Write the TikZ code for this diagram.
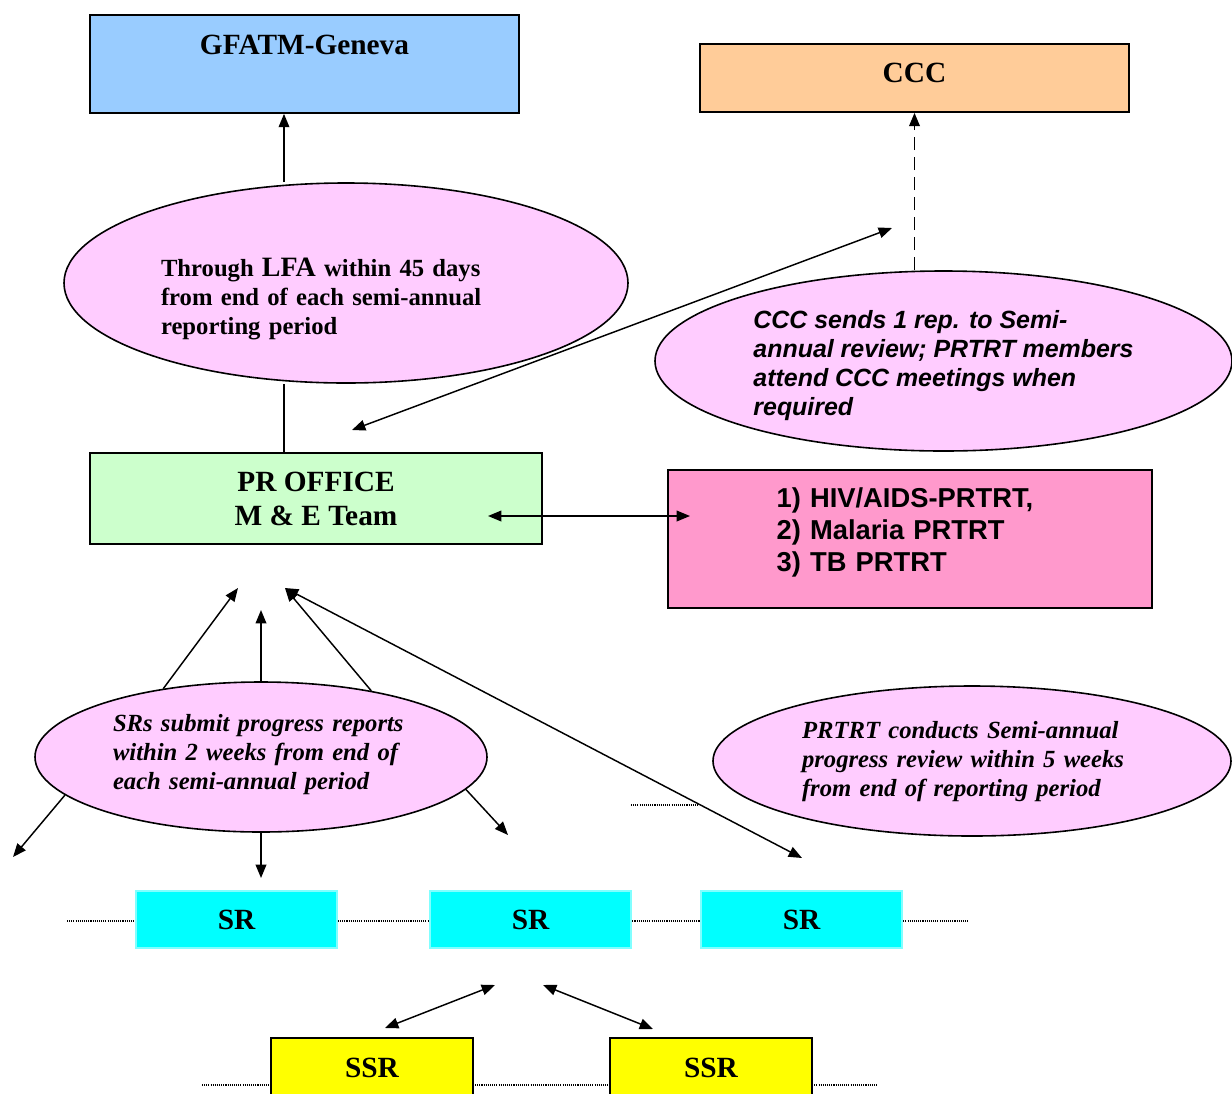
\documentclass[tikz,border=0pt]{standalone}
\usepackage{fontspec}
\setmainfont{Liberation Serif}
\newfontfamily\arialfont{Liberation Sans}
\usetikzlibrary{arrows.meta, positioning, shapes.geometric}

\definecolor{genevablue}{HTML}{99CCFF}
\definecolor{cccorange}{HTML}{FFCC99}
\definecolor{bubblepink}{HTML}{FFCCFF}
\definecolor{officegreen}{HTML}{CCFFCC}
\definecolor{prtrtpink}{HTML}{FF99CC}
\definecolor{srcyan}{HTML}{00FFFF}
\definecolor{ssryellow}{HTML}{FFFF00}

\begin{document}
\begin{tikzpicture}[
    x=0.75pt, y=-0.75pt,
    box/.style={rectangle, draw, line width=1.3pt, inner sep=0pt, align=center, font=\fontsize{22}{25.5}\selectfont\bfseries},
    bubble/.style={ellipse, draw, line width=1.2pt, fill=bubblepink, inner sep=0pt, align=left},
    srbox/.style={rectangle, draw=srcyan!50!white, line width=0.8pt, fill=srcyan, minimum width=150.75pt, minimum height=42.75pt, font=\fontsize{22}{25}\selectfont\bfseries},
    ssrbox/.style={rectangle, draw, line width=1.3pt, fill=ssryellow, minimum width=151.5pt, minimum height=45pt, font=\fontsize{22}{25}\selectfont\bfseries},
    arrow/.style={-{Triangle[length=10pt,width=8pt]}, line width=1.1pt},
    twoway/.style={{Triangle[length=10pt,width=8pt]}-{Triangle[length=10pt,width=8pt]}, line width=1.1pt},
    dasharrow/.style={arrow, line width=1.3pt, dash pattern=on 10pt off 5pt},
    dotline/.style={line width=0.8pt, dash pattern=on 0.8pt off 0.8pt}
]
\useasboundingbox (0,0) rectangle (1232,1093);
\clip (0,0) rectangle (1232,1093);

% Dotted guide lines
\draw [dotline] (67,921) -- (968,921);
\draw [dotline] (202,1085) -- (878,1085);
\draw [dotline] (631,805) -- (698,805);

% Nodes
\node (gfatm) [box, fill=genevablue, minimum width=321.75pt, minimum height=73.5pt, text height=15pt, text depth=29pt] at (304.5,64) {GFATM-Geneva};
\node (ccc) [box, fill=cccorange, minimum width=321.75pt, minimum height=51pt, text height=15pt, text depth=9pt] at (914.5,78) {CCC};
\node (ell1) [bubble, minimum width=423pt, minimum height=150pt, text width=277.5pt, text height=14pt, text depth=24.5pt, font=\fontsize{18.5}{21.75}\selectfont\bfseries] at (346,283)
    {Through {\fontsize{21}{21}\selectfont LFA} within 45 days\\from end of each semi-annual\\reporting period};
\node (ell2) [bubble, minimum width=432.75pt, minimum height=135pt, text height=85pt, text depth=4pt, font=\arialfont\fontsize{18.7}{21.75}\selectfont\bfseries\itshape] at (943.5,361)
    {CCC sends 1 rep. to Semi-\\annual review; PRTRT members\\attend CCC meetings when\\required};
\node (proffice) [box, fill=officegreen, minimum width=339pt, minimum height=68.25pt] at (316,498.5) {PR OFFICE\\M \& E Team};
\node (prtrt) [box, fill=prtrtpink, minimum width=363pt, minimum height=103.5pt, text width=200pt, align=left, text height=15pt, text depth=63pt, font=\arialfont\fontsize{20.5}{24}\selectfont\bfseries] at (910,539)
    {1) HIV/AIDS-PRTRT,\\2) Malaria PRTRT\\3) TB PRTRT};
\node (ell3) [bubble, minimum width=339pt, minimum height=112.5pt, text width=222pt, text height=13pt, text depth=52pt, font=\fontsize{18.5}{21.75}\selectfont\bfseries\itshape] at (261,757)
    {SRs submit progress reports\\within 2 weeks from end of\\each semi-annual period};
\node (ell4) [bubble, minimum width=388.5pt, minimum height=112.5pt, text width=255pt, text height=13pt, text depth=47.5pt, font=\fontsize{18.5}{21.75}\selectfont\bfseries\itshape] at (972,761)
    {PRTRT conducts Semi-annual\\progress review within 5 weeks\\from end of reporting period};
\node (sr1) [srbox] at (236.5,919.5) {SR};
\node (sr2) [srbox] at (530.5,919.5) {SR};
\node (sr3) [srbox] at (801.5,919.5) {SR};
\node (ssr1) [ssrbox] at (372,1068) {SSR};
\node (ssr2) [ssrbox] at (711,1068) {SSR};

% Free arrow ends
\coordinate (trunk) at (284,0);
\coordinate (prtip) at (352,430);
\coordinate (ccctip) at (892,228);
\coordinate (prin) at (488,516);
\coordinate (prtrtin) at (690,516);
\coordinate (upleft) at (238,588);
\coordinate (upmid) at (261,610);
\coordinate (upright) at (285,588);
\coordinate (downfar) at (13,857);
\coordinate (downmid) at (261,878);
\coordinate (downright) at (508,835);
\coordinate (reviewtip) at (802,858);
\coordinate (ssrup1) at (495,985);
\coordinate (ssrup2) at (543,985);
\coordinate (ssrdn1) at (385,1028);
\coordinate (ssrdn2) at (653,1029);

% Paths
\draw [arrow] (ell1.north -| trunk) -- (gfatm.south -| trunk);
\draw [line width=1.1pt] (proffice.north -| trunk) -- (ell1.south -| trunk);
\draw [dasharrow] (ell2.north -| ccc.south) -- (ccc.south);
\draw [twoway] (prtip) -- (ccctip);
\draw [twoway] (prin) -- (prtrtin);
\draw [arrow] (ell3.145) -- (upleft);
\draw [arrow] (ell3.north) -- (upmid);
\draw [arrow] (ell3.31) -- (upright);
\draw [twoway] (upright) -- (reviewtip);
\draw [arrow] (ell3.191) -- (downfar);
\draw [arrow] (ell3.south) -- (downmid);
\draw [arrow] (ell3.351) -- (downright);
\draw [twoway] (ssrdn1) -- (ssrup1);
\draw [twoway] (ssrup2) -- (ssrdn2);

\end{tikzpicture}
\end{document}
